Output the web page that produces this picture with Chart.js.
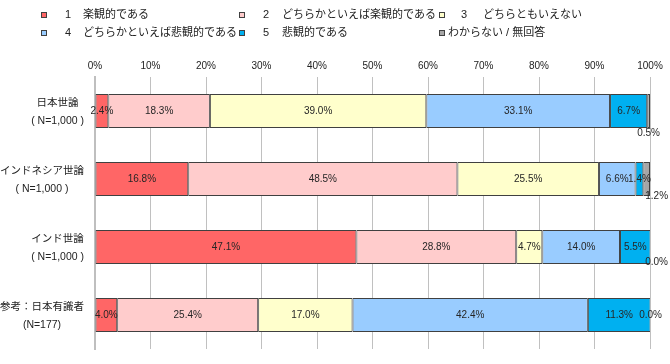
<!DOCTYPE html>
<html><head><meta charset="utf-8">
<script src="https://cdn.jsdelivr.net/npm/chart.js@4/dist/chart.umd.min.js"></script>
<style>html,body{margin:0;padding:0;background:#fff;}canvas{display:block;}</style>
</head><body>
<canvas id="c" width="670" height="364"></canvas>
<script>
// ---- data ----
const categories = [
  ['日本世論', '( N=1,000 )'],
  ['インドネシア世論', '( N=1,000 )'],
  ['インド世論', '( N=1,000 )'],
  ['参考：日本有識者', '(N=177)']
];
const seriesNumbers = ['1', '2', '3', '4', '5', ''];
const seriesNames = ['楽観的である', 'どちらかといえば楽観的である', 'どちらともいえない', 'どちらかといえば悲観的である', '悲観的である', 'わからない / 無回答'];
const optimistic          = [2.4, 16.8, 47.1, 4.0];
const somewhatOptimistic  = [18.3, 48.5, 28.8, 25.4];
const neutral             = [39.0, 25.5, 4.7, 17.0];
const somewhatPessimistic = [33.1, 6.6, 14.0, 42.4];
const pessimistic         = [6.7, 1.4, 5.5, 11.3];
const noAnswer            = [0.5, 1.2, 0.0, 0.0];
const xTickValues = [0, 10, 20, 30, 40, 50, 60, 70, 80, 90, 100];

// ---- styles ----
const colors = ['#FF6666', '#FFCCCC', '#FFFFCC', '#99CCFF', '#00B0F0', '#A6A6A6'];
const FONT = '"Liberation Sans", "Noto Sans CJK JP", sans-serif';
const seriesValues = [optimistic, somewhatOptimistic, neutral, somewhatPessimistic, pessimistic, noAnswer];

const legendPos = [
  {bx: 41, nx: 65, tx: 83, y: 15},
  {bx: 239, nx: 263, tx: 282, y: 15},
  {bx: 439, nx: 461, tx: 483, y: 15},
  {bx: 41, nx: 65, tx: 83, y: 33},
  {bx: 239, nx: 263, tx: 282, y: 33},
  {bx: 439, nx: 0, tx: 448, y: 33}
];
// label nudges for tiny segments: key "dataset-index"
const labelNudge = {
  '5-0': {dx: 0, dy: 22},
  '5-1': {dx: 10, dy: 17},
  '5-2': {dx: 6, dy: 15}
};

const customDraw = {
  id: 'customDraw',
  afterDraw(chart) {
    const ctx = chart.ctx;
    ctx.save();
    // legend
    ctx.textBaseline = 'middle';
    ctx.font = '11px ' + FONT;
    seriesNames.forEach((name, i) => {
      const p = legendPos[i];
      ctx.fillStyle = colors[i];
      ctx.fillRect(p.bx, p.y - 3, 6, 6);
      ctx.strokeStyle = '#404040';
      ctx.lineWidth = 1;
      ctx.strokeRect(p.bx + 0.5, p.y - 2.5, 5, 5);
      ctx.fillStyle = '#222';
      ctx.textAlign = 'left';
      if (seriesNumbers[i]) ctx.fillText(seriesNumbers[i], p.nx, p.y);
      ctx.fillText(name, p.tx, p.y);
    });
    // category labels
    const ys = chart.scales.y;
    ctx.font = '10.5px ' + FONT;
    ctx.fillStyle = '#222';
    ctx.textAlign = 'center';
    categories.forEach((lines, i) => {
      const yc = ys.getPixelForValue(i);
      const maxW = Math.max(...lines.map(l => ctx.measureText(l).width));
      const cx = 84 - maxW / 2;
      ctx.fillText(lines[0], cx, yc - 8);
      ctx.fillText(lines[1], cx, yc + 10);
    });
    // data labels
    ctx.font = '10px ' + FONT;
    ctx.fillStyle = '#262626';
    chart.data.datasets.forEach((ds, di) => {
      const meta = chart.getDatasetMeta(di);
      meta.data.forEach((el, i) => {
        const v = ds.data[i];
        const n = labelNudge[di + '-' + i] || {dx: 0, dy: 0};
        const x = (el.x + el.base) / 2 + n.dx;
        const y = el.y + n.dy;
        ctx.fillText(v.toFixed(1) + '%', x, y);
      });
    });
    ctx.restore();
  }
};

new Chart(document.getElementById('c'), {
  type: 'bar',
  data: {
    labels: categories.map(c => c.join(' ')),
    datasets: seriesValues.map((vals, i) => ({
      label: seriesNames[i],
      data: vals,
      backgroundColor: colors[i],
      borderColor: '#404040',
      borderWidth: 1,
      borderSkipped: false,
      categoryPercentage: 1,
      barPercentage: 0.5
    }))
  },
  options: {
    responsive: false,
    animation: false,
    indexAxis: 'y',
    layout: {padding: {left: 0, right: 20, top: 50, bottom: 15}},
    plugins: {legend: {display: false}, tooltip: {enabled: false}},
    scales: {
      x: {
        position: 'top',
        stacked: true,
        min: 0, max: 100,
        afterBuildTicks: s => { s.ticks = xTickValues.map(v => ({value: v})); },
        afterFit: s => { s.height = 27; },
        ticks: {callback: v => v + '%', font: {size: 10, family: FONT}, color: '#222', padding: 5, maxRotation: 0, autoSkip: false},
        grid: {color: '#C0C0C0', lineWidth: 1, drawTicks: false},
        border: {display: false}
      },
      y: {
        stacked: true,
        ticks: {display: false},
        grid: {display: false},
        border: {display: true, color: '#BFBFBF', width: 2},
        afterFit: s => { s.width = 95; }
      }
    }
  },
  plugins: [customDraw]
});
</script>
</body></html>
